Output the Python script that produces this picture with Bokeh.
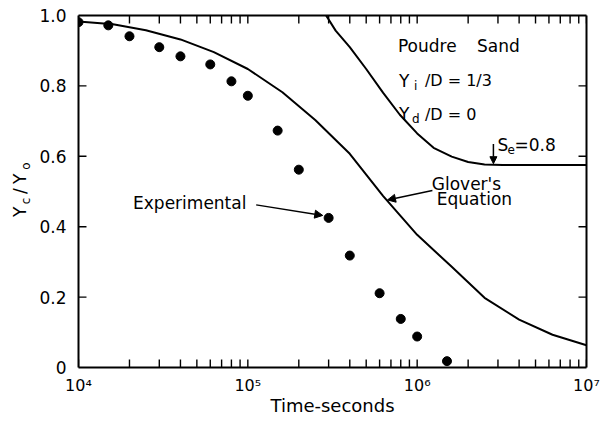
import math
from bokeh.plotting import figure
from bokeh.layouts import row
from bokeh.models import LinearAxis, LogAxis, FixedTicker, Label, Arrow, NormalHead
from bokeh.embed import file_html
from bokeh.resources import INLINE

# ---------------- data ----------------
t_exp = [1e4, 1.5e4, 2e4, 3e4, 4e4, 6e4, 8e4, 1e5, 1.5e5, 2e5,
         3e5, 4e5, 6e5, 8e5, 1e6, 1.5e6]
y_exp = [0.981, 0.972, 0.941, 0.910, 0.884, 0.861, 0.813, 0.772, 0.673, 0.562,
         0.425, 0.318, 0.211, 0.138, 0.088, 0.018]

t_glover = [1e4, 1.6e4, 2.5e4, 4e4, 6.3e4, 1e5, 1.6e5, 2.5e5, 4e5, 6.3e5,
            1e6, 1.6e6, 2.5e6, 4e6, 6.3e6, 1e7]
y_glover = [0.983, 0.975, 0.958, 0.932, 0.896, 0.848, 0.782, 0.703, 0.607, 0.487,
            0.377, 0.286, 0.198, 0.136, 0.093, 0.063]

t_se = [2.9e5, 3.3e5, 4e5, 5e5, 6.3e5, 7.9e5, 1e6, 1.25e6, 1.6e6, 2e6,
        2.5e6, 3.2e6, 1e7]
y_se = [1.0, 0.957, 0.91, 0.848, 0.78, 0.718, 0.665, 0.624, 0.599, 0.584,
        0.577, 0.575, 0.575]

x_major = [1e4, 1e5, 1e6, 1e7]
x_labels = ["10⁴", "10⁵", "10⁶", "10⁷"]
x_minor = [m * 10 ** k for k in (4, 5, 6) for m in range(2, 10)]
y_major = [0.0, 0.2, 0.4, 0.6, 0.8, 1.0]
y_labels = ["0", "0.2", "0.4", "0.6", "0.8", "1.0"]
y_inner = [0.2, 0.4, 0.6, 0.8]

FONT = "DejaVu Sans"
INK = "black"

# ---------------- geometry ----------------
W_STRIP = 36
W_MAIN = 606 - W_STRIP
H = 421
B_LEFT, B_RIGHT, B_TOP, B_BOTTOM = 41, 20, 15, 54
X0, X1 = 1e4, 1e7
Y0, Y1 = 0.0, 1.0
FRAME_W = W_MAIN - B_LEFT - B_RIGHT
FRAME_H = H - B_TOP - B_BOTTOM
TICK_PX = 8
tick_dy = TICK_PX / FRAME_H * (Y1 - Y0)
tick_fx = 10 ** (TICK_PX / FRAME_W * math.log10(X1 / X0))

# ---------------- main plot ----------------
p = figure(width=W_MAIN, height=H, x_axis_type="log", x_range=(X0, X1), y_range=(Y0, Y1),
           output_backend="svg", toolbar_location=None,
           min_border_left=B_LEFT, min_border_right=B_RIGHT,
           min_border_top=B_TOP, min_border_bottom=B_BOTTOM)
p.grid.visible = False
p.outline_line_color = None


def style_axis(ax):
    ax.axis_line_width = 2
    ax.axis_line_color = INK
    ax.major_tick_in = 0
    ax.major_tick_out = 0
    ax.minor_tick_in = 0
    ax.minor_tick_out = 0
    ax.major_tick_line_color = None
    ax.minor_tick_line_color = None
    ax.major_label_text_font = FONT
    ax.major_label_text_color = INK


xb = p.xaxis[0]
xb.ticker = FixedTicker(ticks=x_major, minor_ticks=[])
style_axis(xb)
xb.major_label_overrides = dict(zip(x_major, x_labels))
xb.major_label_text_font_size = "16px"
xb.major_label_standoff = 8
xb.axis_label = "Time-seconds"
xb.axis_label_text_font = FONT
xb.axis_label_text_font_size = "18px"
xb.axis_label_text_font_style = "normal"
xb.axis_label_text_color = INK
xb.axis_label_standoff = -3

yl = p.yaxis[0]
yl.ticker = FixedTicker(ticks=y_major, minor_ticks=[])
style_axis(yl)
yl.major_label_overrides = dict(zip(y_major, y_labels))
yl.major_label_text_font_size = "17px"
yl.major_label_standoff = 12

xt = LogAxis(ticker=FixedTicker(ticks=x_major, minor_ticks=[]))
style_axis(xt)
xt.major_label_text_font_size = "0px"
xt.major_label_text_color = None
xt.major_label_standoff = 0
p.add_layout(xt, "above")

yr = LinearAxis(ticker=FixedTicker(ticks=y_inner, minor_ticks=[]))
style_axis(yr)
yr.major_label_text_font_size = "0px"
yr.major_label_text_color = None
yr.major_label_standoff = 0
p.add_layout(yr, "right")

# inward tick marks on all four sides
x_ticks = x_major + x_minor
n = len(x_ticks)
m = len(y_inner)
p.segment(x0=x_ticks, y0=[Y0] * n, x1=x_ticks, y1=[Y0 + tick_dy] * n,
          line_color=INK, line_width=1.4)
p.segment(x0=x_ticks, y0=[Y1] * n, x1=x_ticks, y1=[Y1 - tick_dy] * n,
          line_color=INK, line_width=1.4)
p.segment(x0=[X0] * m, y0=y_inner, x1=[X0 * tick_fx] * m, y1=y_inner,
          line_color=INK, line_width=1.4)
p.segment(x0=[X1] * m, y0=y_inner, x1=[X1 / tick_fx] * m, y1=y_inner,
          line_color=INK, line_width=1.4)

# curves and points
p.line(t_glover, y_glover, line_width=2, line_color=INK)
p.line(t_se, y_se, line_width=2, line_color=INK)
p.scatter(t_exp, y_exp, size=9, fill_color=INK, line_color=INK)

BASE_FIX = 5  # lift so that the alphabetic baseline sits on the given y


def lab(fig, text, x, y, dx=0, dy=0, size="17px"):
    fig.add_layout(Label(x=x, y=y, x_offset=dx, y_offset=dy + BASE_FIX, text=text,
                         text_font=FONT, text_font_size=size, text_color=INK,
                         text_baseline="alphabetic", text_align="left"))


lab(p, "Poudre", 7.7e5, 0.90)
lab(p, "Sand", 7.7e5, 0.90, dx=79)

lab(p, "Y", 7.8e5, 0.80)
lab(p, "i", 7.8e5, 0.80, dx=15, dy=-5, size="12px")
lab(p, "/D = 1/3", 7.8e5, 0.80, dx=26, size="16px")

lab(p, "Y", 7.8e5, 0.705)
lab(p, "d", 7.8e5, 0.705, dx=13, dy=-5, size="12px")
lab(p, "/D = 0", 7.8e5, 0.705, dx=26, size="16px")

lab(p, "S", 2.98e6, 0.6165)
lab(p, "e", 2.98e6, 0.6165, dx=10, dy=-4, size="12px")
lab(p, "=0.8", 2.98e6, 0.6165, dx=17)

lab(p, "Glover's", 1.22e6, 0.5085)
lab(p, "Equation", 1.22e6, 0.5085, dx=5, dy=-15)

lab(p, "Experimental", 2.1e4, 0.4545)


def arrow(x0, y0, x1, y1, size=8):
    p.add_layout(Arrow(x_start=x0, y_start=y0, x_end=x1, y_end=y1, line_width=1.5,
                       line_color=INK,
                       end=NormalHead(size=size, fill_color=INK, line_color=INK)))


arrow(1.12e5, 0.462, 2.77e5, 0.432)
arrow(1.23e6, 0.503, 6.68e5, 0.476)
arrow(2.82e6, 0.635, 2.82e6, 0.579, size=7)

# ---------------- y-axis title strip (Yc/Yo with subscripts) ----------------
# the row aligns this strip's frame with the main frame, so it shares the y scale
q = figure(width=W_STRIP, height=H, x_range=(0, W_STRIP), y_range=(Y0, Y1),
           output_backend="svg", toolbar_location=None, min_border=0,
           x_axis_location=None, y_axis_location=None)
q.outline_line_color = None
q.grid.visible = False


def vlab(text, x, y, size="17px"):
    # centred pieces, rotated to read bottom-to-top
    q.add_layout(Label(x=x, y=y, text=text, text_font=FONT, text_font_size=size,
                       text_color=INK, text_align="center", text_baseline="middle",
                       angle=math.pi / 2))


vlab("Y", 19, 0.442)
vlab("c", 25, 0.473, size="12px")
vlab("/", 19, 0.501)
vlab("Y", 19, 0.536)
vlab("o", 25, 0.572, size="12px")

layout = row(q, p, spacing=0)
open("out.html", "w").write(file_html(layout, INLINE))
